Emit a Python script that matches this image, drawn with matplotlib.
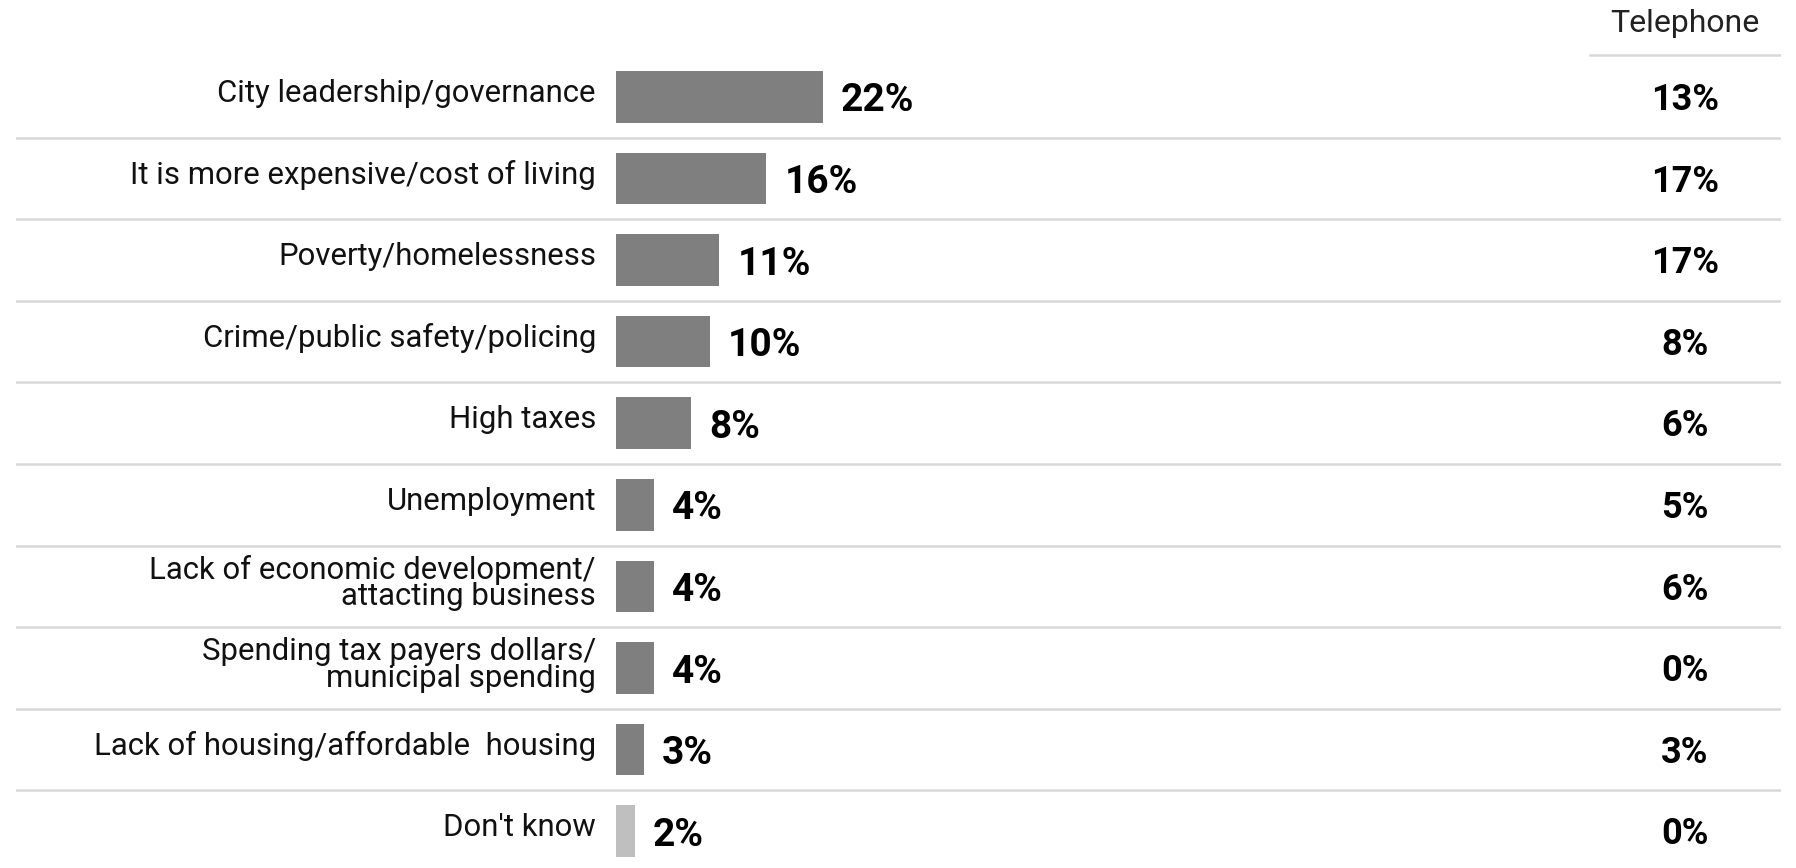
import matplotlib
matplotlib.use("Agg")
import matplotlib.pyplot as plt

categories = [
    "City leadership/governance",
    "It is more expensive/cost of living",
    "Poverty/homelessness",
    "Crime/public safety/policing",
    "High taxes",
    "Unemployment",
    "Lack of economic development/\nattacting business",
    "Spending tax payers dollars/\nmunicipal spending",
    "Lack of housing/affordable  housing",
    "Don't know",
]
online = [22, 16, 11, 10, 8, 4, 4, 4, 3, 2]
telephone = [13, 17, 17, 8, 6, 5, 6, 0, 3, 0]
column_title = "Telephone"

bar_colors = ["#7f7f7f"] * 9 + ["#bfbfbf"]

plt.rcParams["font.family"] = ["Roboto", "DejaVu Sans"]

W, H = 1796, 868
fig = plt.figure(figsize=(W / 100, H / 100), dpi=100)

# layout in pixels
left_px, right_px = 16, 1781
zero_px = 616
px_per_pct = 9.4
row0_px = 96.8
row_px = 81.6

ax = fig.add_axes([left_px / W, 0, (right_px - left_px) / W, 1])
ax.set_xlim(-(zero_px - left_px) / px_per_pct, (right_px - zero_px) / px_per_pct)
ax.set_ylim((H - row0_px) / row_px, -row0_px / row_px)
ax.axis("off")

n = len(categories)
ax.barh(range(n), online, height=0.63, color=bar_colors, left=0)

label_x = -(zero_px - 596) / px_per_pct
tel_x = (1685 - zero_px) / px_per_pct
for i, (cat, v, t) in enumerate(zip(categories, online, telephone)):
    ax.text(label_x, i - 0.04, cat, ha="right", va="center", fontsize=22.4,
            color="#111111", linespacing=0.9)
    ax.text(v + 18 / px_per_pct, i + 0.05, f"{v}%", ha="left", va="center",
            fontsize=28, fontweight="bold", color="black")
    ax.text(tel_x, i + 0.04, f"{t}%", ha="center", va="center",
            fontsize=26, fontweight="bold", color="black")

# row separators
for i in range(n - 1):
    ax.axhline(i + 0.5, color="#d9d9d9", lw=1.8)

# column header
hdr_x0 = (1590 - zero_px) / px_per_pct
ax.plot([hdr_x0, ax.get_xlim()[1]], [-0.51, -0.51], color="#d9d9d9", lw=1.8)
ax.text(tel_x, -0.9, column_title, ha="center", va="center", fontsize=23,
        color="#222222")

fig.savefig("out.png", dpi=100)
